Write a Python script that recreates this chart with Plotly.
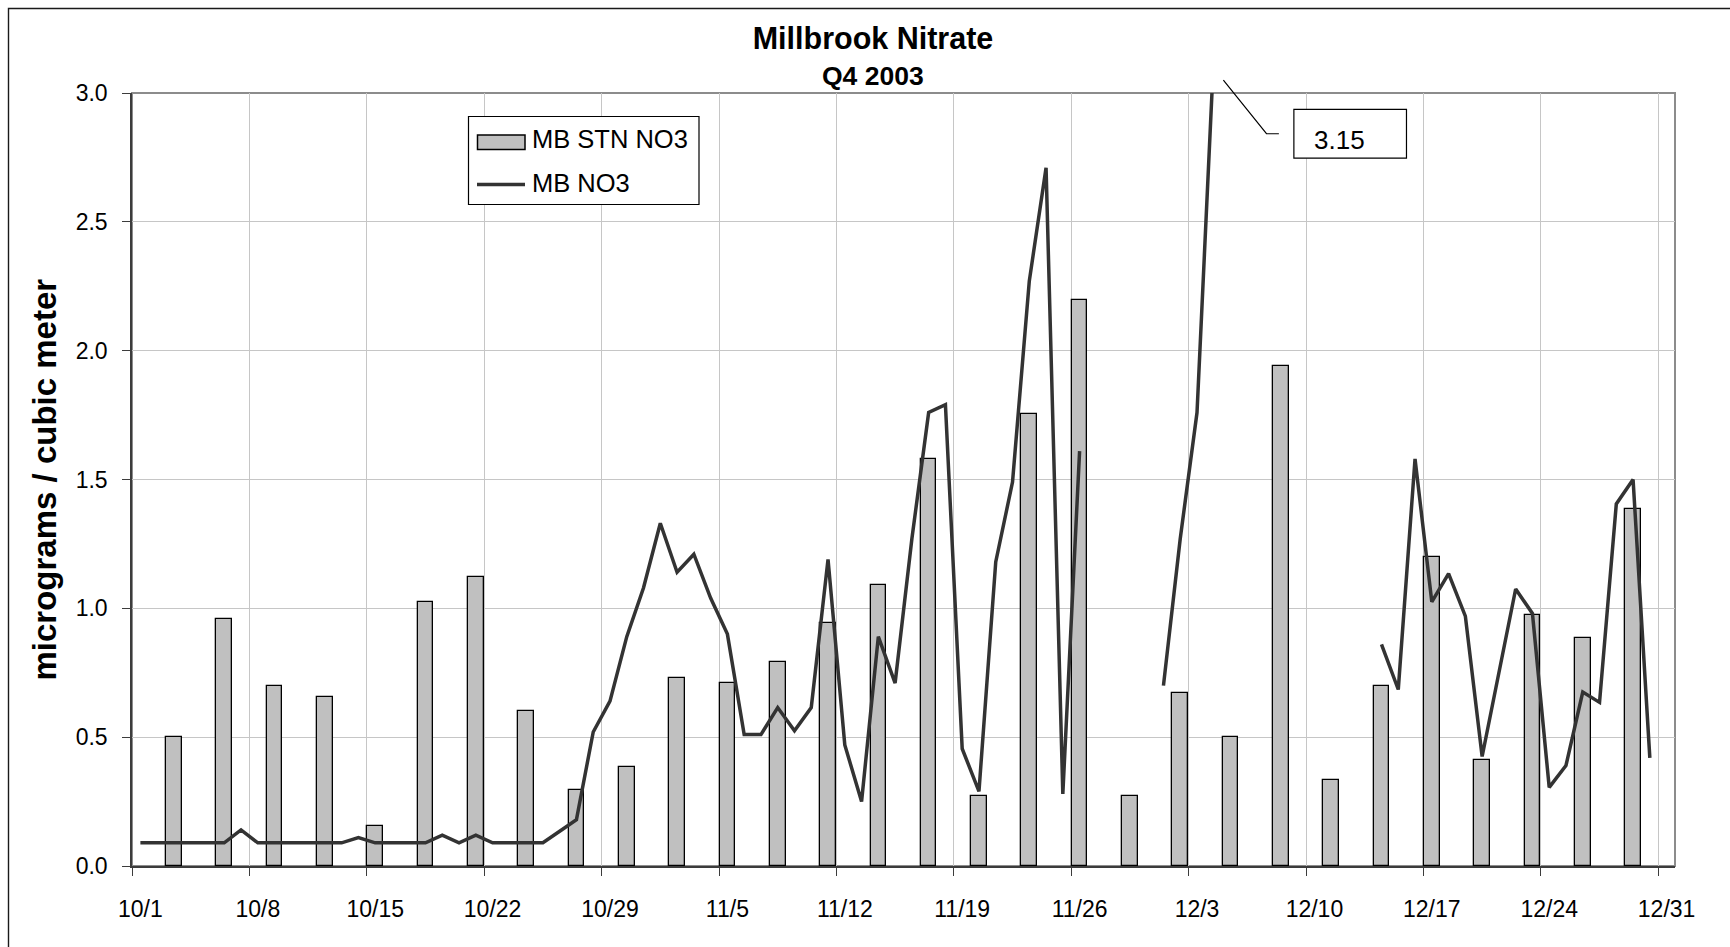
import pandas as pd
import plotly.graph_objects as go

# ---- data -------------------------------------------------------------
# Daily continuous nitrate (MB NO3), micrograms / cubic meter, 10/1 - 12/31.
# None marks days without a valid measurement.
no3_dates = pd.date_range("2003-10-01", "2003-12-31", freq="D")
no3_values = [
    0.09, 0.09, 0.09, 0.09, 0.09, 0.09, 0.14, 0.09, 0.09, 0.09,   # 10/1 - 10/10
    0.09, 0.09, 0.09, 0.11, 0.09, 0.09, 0.09, 0.09, 0.12, 0.09,   # 10/11 - 10/20
    0.12, 0.09, 0.09, 0.09, 0.09, 0.135, 0.18, 0.52, 0.64, 0.89,  # 10/21 - 10/30
    1.08,                                                         # 10/31
    1.33, 1.14, 1.21, 1.04, 0.90, 0.51, 0.51, 0.615, 0.525, 0.615,  # 11/1 - 11/10
    1.19, 0.47, 0.25, 0.89, 0.71, 1.27, 1.76, 1.79, 0.455, 0.29,    # 11/11 - 11/20
    1.18, 1.49, 2.27, 2.71, 0.28, 1.61, None, None, None, None,     # 11/21 - 11/30
    0.70, 1.27, 1.76, 3.15, None, None, None, None, None, None,     # 12/1 - 12/10
    None, None, None, 0.86, 0.685, 1.58, 1.025, 1.135, 0.97, 0.425, # 12/11 - 12/20
    0.75, 1.075, 0.98, 0.305, 0.39, 0.675, 0.635, 1.405, 1.50, 0.42, # 12/21 - 12/30
    None,                                                           # 12/31
]

# Speciation (STN) filter nitrate, every third day.
stn_dates = [
    "2003-10-03", "2003-10-06", "2003-10-09", "2003-10-12", "2003-10-15",
    "2003-10-18", "2003-10-21", "2003-10-24", "2003-10-27", "2003-10-30",
    "2003-11-02", "2003-11-05", "2003-11-08", "2003-11-11", "2003-11-14",
    "2003-11-17", "2003-11-20", "2003-11-23", "2003-11-26", "2003-11-29",
    "2003-12-02", "2003-12-05", "2003-12-08", "2003-12-11", "2003-12-14",
    "2003-12-17", "2003-12-20", "2003-12-23", "2003-12-26", "2003-12-29",
]
stn_values = [
    0.50, 0.96, 0.70, 0.655, 0.155, 1.025, 1.12, 0.60, 0.295, 0.385,
    0.73, 0.71, 0.79, 0.945, 1.09, 1.58, 0.27, 1.755, 2.195, 0.27,
    0.67, 0.50, 1.94, 0.335, 0.70, 1.20, 0.41, 0.975, 0.885, 1.385,
]

series_names = ["MB STN NO3", "MB NO3"]

tick_dates = [
    "2003-10-01", "2003-10-08", "2003-10-15", "2003-10-22", "2003-10-29",
    "2003-11-05", "2003-11-12", "2003-11-19", "2003-11-26", "2003-12-03",
    "2003-12-10", "2003-12-17", "2003-12-24", "2003-12-31",
]
tick_labels = [
    "10/1", "10/8", "10/15", "10/22", "10/29", "11/5", "11/12",
    "11/19", "11/26", "12/3", "12/10", "12/17", "12/24", "12/31",
]

Y_MAX = 3.0

# ---- page geometry ----------------------------------------------------
W, H = 1730, 947
ML, MR, MT, MB = 132, 55, 93, 81
PW, PH = W - ML - MR, H - MT - MB


def px_x(px):
    """figure pixel column -> paper fraction"""
    return (px - ML) / PW


def px_y(py):
    """figure pixel row -> paper fraction"""
    return (H - MB - py) / PH


FONT = "Liberation Sans, Arial, Helvetica, sans-serif"
BAR_FILL = "#C0C0C0"
LINE_COL = "#333333"
GRID_COL = "#C6C6C6"
AXIS_COL = "#3C3C3C"

half_day = pd.Timedelta(hours=12)
day_ms = 86400000

fig = go.Figure()

fig.add_trace(go.Bar(
    x=stn_dates, y=stn_values, name=series_names[0],
    width=0.93 * day_ms,
    marker=dict(color=BAR_FILL, line=dict(color="black", width=1.3)),
    showlegend=False,
))

fig.add_trace(go.Scatter(
    x=no3_dates, y=no3_values, name=series_names[1], mode="lines",
    line=dict(color=LINE_COL, width=3.5), connectgaps=False,
    showlegend=False,
))

boundaries = [pd.Timestamp(d) - half_day for d in tick_dates]

fig.update_layout(
    width=W, height=H,
    margin=dict(l=ML, r=MR, t=MT, b=MB, pad=0),
    paper_bgcolor="white", plot_bgcolor="white",
    font=dict(family=FONT, color="black"),
    bargap=0,
    title=dict(
        text="<b>Millbrook Nitrate</b>",
        font=dict(size=30.5, family=FONT, color="black"),
        x=873 / W, xanchor="center", xref="container",
        y=1 - 38 / H, yanchor="middle", yref="container",
    ),
    xaxis=dict(
        type="date",
        range=[no3_dates[0] - half_day, no3_dates[-1] + half_day],
        tickmode="array", tickvals=tick_dates, ticktext=tick_labels,
        ticks="", showgrid=False,
        tickfont=dict(size=23, family=FONT, color="black"),
        ticklabelstandoff=22,
        showline=True, linecolor=AXIS_COL, linewidth=1.5,
        minor=dict(
            tickmode="array", tickvals=boundaries,
            ticks="outside", ticklen=8, tickcolor=AXIS_COL, tickwidth=1,
            showgrid=True, gridcolor=GRID_COL, gridwidth=1,
        ),
        zeroline=False,
    ),
    yaxis=dict(
        range=[0, Y_MAX], tick0=0, dtick=0.5, tickformat=".1f",
        ticks="outside", ticklen=8, tickcolor=AXIS_COL, tickwidth=1,
        tickfont=dict(size=23, family=FONT, color="black"),
        ticklabelstandoff=10,
        showgrid=True, gridcolor=GRID_COL, gridwidth=1,
        showline=True, linecolor=AXIS_COL, linewidth=1.5,
        zeroline=False,
    ),
)

shapes = []
# gray frame around the plot area (top and right edges show)
shapes.append(dict(
    type="rect", xref="x domain", yref="y domain", x0=0, x1=1, y0=0, y1=1,
    line=dict(color="#8C8C8C", width=2), layer="below",
))
# chart-area border
shapes.append(dict(
    type="rect", xref="paper", yref="paper",
    x0=px_x(8.5), x1=px_x(1760), y0=px_y(975), y1=px_y(8.5),
    line=dict(color="#1A1A1A", width=1.4), fillcolor="rgba(0,0,0,0)",
))

# legend box
LX0, LX1, LY0, LY1 = 468.5, 699, 116.5, 204.5
shapes.append(dict(
    type="rect", xref="paper", yref="paper",
    x0=px_x(LX0), x1=px_x(LX1), y0=px_y(LY1), y1=px_y(LY0),
    line=dict(color="black", width=1.2), fillcolor="white",
))
shapes.append(dict(
    type="rect", xref="paper", yref="paper",
    x0=px_x(477.5), x1=px_x(525), y0=px_y(149.5), y1=px_y(135),
    line=dict(color="black", width=1.5), fillcolor=BAR_FILL,
))
shapes.append(dict(
    type="line", xref="paper", yref="paper",
    x0=px_x(477), x1=px_x(525), y0=px_y(184.5), y1=px_y(184.5),
    line=dict(color=LINE_COL, width=3.5),
))

# leader line and box for the off-scale peak value
peak_val = max(v for v in no3_values if v is not None)
peak_date = no3_dates[no3_values.index(peak_val)]
peak_yfrac = peak_val / Y_MAX
shapes.append(dict(
    type="path", xref="x", yref="paper",
    xsizemode="pixel", ysizemode="pixel",
    xanchor=peak_date, yanchor=peak_yfrac,
    path="M 9.6,-25.8 L 52.7,-79.4 L 65.1,-79.4",
    line=dict(color="black", width=1.2),
))
shapes.append(dict(
    type="rect", xref="x", yref="paper",
    xsizemode="pixel", ysizemode="pixel",
    xanchor=peak_date, yanchor=peak_yfrac,
    x0=80.1, x1=192.7, y0=-103.8, y1=-55.1,
    line=dict(color="black", width=1.2), fillcolor="white",
))
fig.update_layout(shapes=shapes)

annotations = [
    dict(text="<b>Q4 2003</b>", xref="paper", yref="paper",
         x=px_x(873), y=px_y(76.5), xanchor="center", yanchor="middle",
         showarrow=False, font=dict(size=26.5, family=FONT, color="black")),
    dict(text="<b>micrograms / cubic meter</b>", xref="paper", yref="paper",
         x=px_x(44), y=0.5, xanchor="center", yanchor="middle", textangle=-90,
         showarrow=False, font=dict(size=33, family=FONT, color="black")),
    dict(text=series_names[0], xref="paper", yref="paper",
         x=px_x(530), y=px_y(139), xanchor="left", yanchor="middle",
         showarrow=False, font=dict(size=25.5, family=FONT, color="black")),
    dict(text=series_names[1], xref="paper", yref="paper",
         x=px_x(530), y=px_y(183), xanchor="left", yanchor="middle",
         showarrow=False, font=dict(size=25.5, family=FONT, color="black")),
    dict(text=f"{peak_val:.2f}", xref="x", yref="paper",
         x=peak_date, y=peak_yfrac, xanchor="left", yanchor="middle",
         xshift=98, yshift=-85.5, showarrow=False,
         font=dict(size=26, family=FONT, color="black")),
]
fig.update_layout(annotations=annotations)

fig.write_html("out.html")
